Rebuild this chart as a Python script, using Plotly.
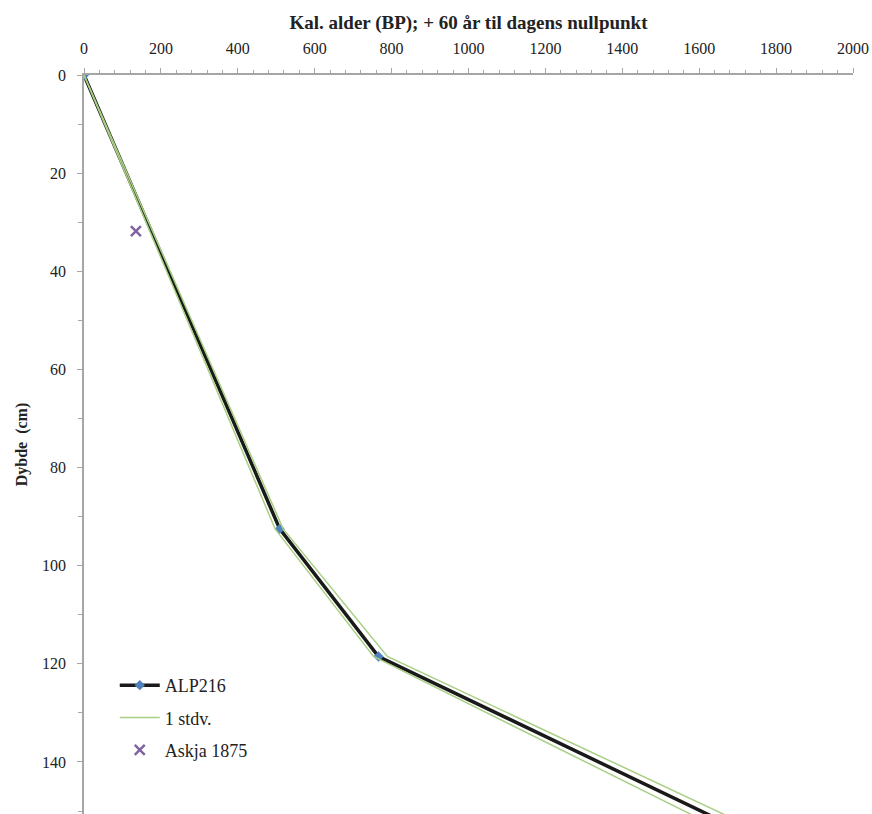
import plotly.graph_objects as go

# Data
alp_age = [0, 509, 766, 1871]
alp_depth = [0, 92.5, 118.5, 160]
std_min_age = [0, 497, 753, 1818]
std_max_age = [0, 518, 789, 1918]
std_depth = [0, 92.5, 118.5, 160]
askja_age = [135]
askja_depth = [31.8]

serif = "Liberation Serif"
black_col = "#1a1a1a"
green_col = "#A9CF84"
blue_col = "#4F81BD"
purple_col = "#8064A2"

fig = go.Figure()
fig.add_trace(go.Scatter(
    x=alp_age, y=alp_depth, mode="lines+markers", name="ALP216",
    line=dict(color=black_col, width=3.5), legendgroup="a",
    marker=dict(symbol="diamond", size=8, color=blue_col),
))
fig.add_trace(go.Scatter(
    x=std_min_age, y=std_depth, mode="lines", name="1 stdv.",
    line=dict(color=green_col, width=1.5), legendgroup="std",
))
fig.add_trace(go.Scatter(
    x=std_max_age, y=std_depth, mode="lines", name="1 stdv.",
    line=dict(color=green_col, width=1.5), legendgroup="std", showlegend=False,
))
fig.add_trace(go.Scatter(
    x=askja_age, y=askja_depth, mode="markers", name="Askja 1875", legendgroup="k",
    marker=dict(symbol="x-thin", size=10, color=purple_col,
                line=dict(color=purple_col, width=2.5)),
))

fig.update_layout(
    width=872, height=814,
    margin=dict(l=84, r=19, t=75, b=0),
    paper_bgcolor="white", plot_bgcolor="white",
    font=dict(family=serif, size=16, color="#222"),
    showlegend=True,
    legend=dict(x=0.04, y=0.199, xanchor="left", yanchor="top",
                bgcolor="rgba(255,255,255,0)", font=dict(family=serif, size=18),
                itemwidth=40, traceorder="grouped", tracegroupgap=6),
    xaxis=dict(
        side="top", range=[0, 2000], tickmode="linear", tick0=0, dtick=200,
        showgrid=False, zeroline=False, showline=True, linecolor="#a6a6a6", linewidth=1.5,
        ticks="outside", ticklen=5, tickcolor="#a6a6a6", ticklabelstandoff=8,
        minor=dict(dtick=40, ticks="outside", ticklen=3, tickcolor="#a6a6a6"),
        tickfont=dict(family=serif, size=16),
        title=dict(text="<b>Kal. alder (BP); + 60 år til dagens nullpunkt</b>",
                   font=dict(family=serif, size=19), standoff=5),
    ),
    yaxis=dict(
        range=[150.6, 0], tickmode="linear", tick0=0, dtick=20,
        showgrid=False, zeroline=False, showline=True, linecolor="#a6a6a6", linewidth=1.5,
        ticks="outside", ticklen=5, tickcolor="#a6a6a6", ticklabelstandoff=8,
        minor=dict(dtick=10, ticks="outside", ticklen=4, tickcolor="#a6a6a6"),
        tickfont=dict(family=serif, size=16),
        title=dict(text="<b>Dybde  (cm)</b>", font=dict(family=serif, size=16), standoff=10),
    ),
)

fig.write_html("out.html")
